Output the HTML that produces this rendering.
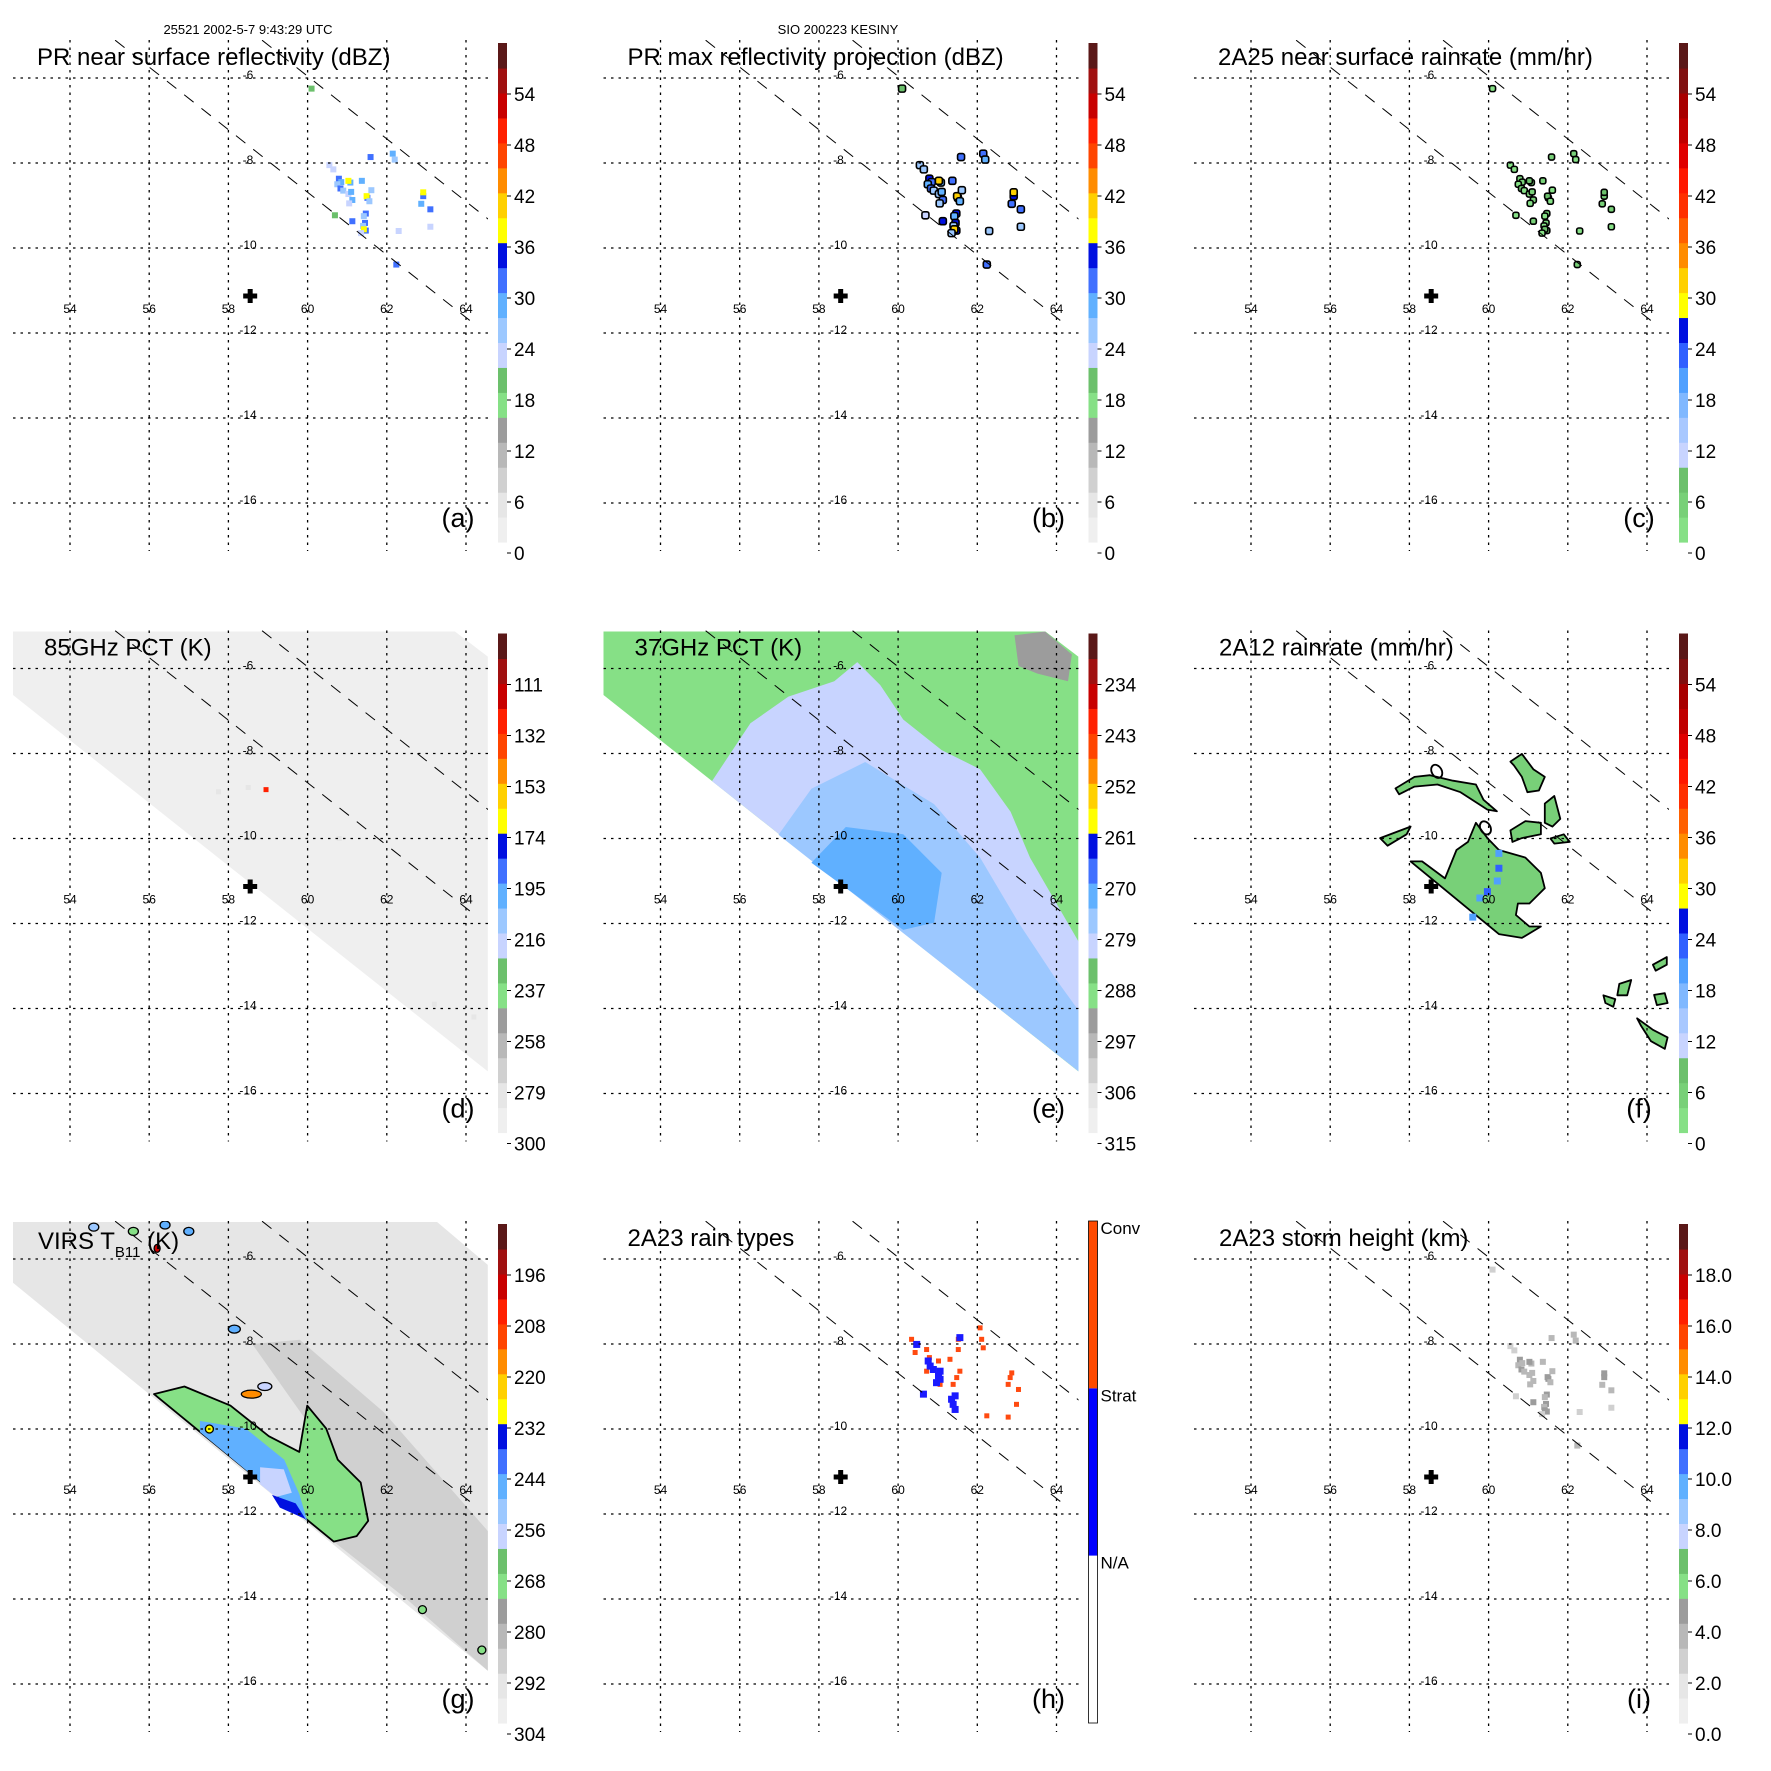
<!DOCTYPE html>
<html><head><meta charset="utf-8"><style>
html,body{margin:0;padding:0;background:#fff}
svg{display:block}
text{font-family:"Liberation Sans",Helvetica,Arial,sans-serif}
</style></head>
<body>
<svg id="chart" xmlns="http://www.w3.org/2000/svg" width="1771" height="1771" viewBox="0 0 1771 1771">
<rect x="0" y="0" width="1771" height="1771" fill="#fff"/>
<text x="248" y="34" font-size="13" text-anchor="middle">25521 2002-5-7 9:43:29 UTC</text>
<text x="838" y="34" font-size="13" text-anchor="middle">SIO 200223 KESINY</text>
</svg>
<script>
// ---------- data ----------
const lonTicks = [54, 56, 58, 60, 62, 64];
const latTicks = [-6, -8, -10, -12, -14, -16];
const centerLon = 58.55;
const centerLat = -11.13;
const swathEdgeA = [[55.14, -5.11], [64.28, -11.84]];
const swathEdgeB = [[58.85, -5.11], [64.56, -9.32]];
const swathTMI = [[52.54, -5.13], [63.72, -5.13], [64.55, -5.72], [64.55, -15.48], [52.54, -6.61]];
const swathVIRS = [[52.56, -5.13], [63.27, -5.13], [64.55, -6.14], [64.55, -15.69], [52.56, -6.56]];

// PR rain pixels: lon, lat
const prLon = [60.79,60.85,60.75,61.08,61.03,60.83,60.9,61.03,61.1,61.13,61.05,61.51,61.49,61.56,61.61,61.37,61.47,61.42,61.45,61.4,61.47,61.42,61.35,60.69,60.55,60.65,61.59,62.15,62.2,62.87,62.92,62.92,63.10,62.24,61.13,60.1,63.1,62.3];
const prLat = [-8.37,-8.45,-8.5,-8.46,-8.42,-8.60,-8.65,-8.73,-8.68,-8.87,-8.95,-8.82,-8.78,-8.9,-8.64,-8.42,-9.19,-9.25,-9.41,-9.48,-9.59,-9.56,-9.65,-9.23,-8.05,-8.15,-7.86,-7.78,-7.92,-8.96,-8.78,-8.69,-9.09,-10.39,-9.37,-6.25,-9.5,-9.6];
const prDBZ = [31,28,25,27,37,30,24,22,27,28,23,31,37,25,24,29,31,26,31,24,32,37,22,19,22,23,30,29,24,28,31,37,30,30,31,18,22,22];
const maxDBZ = [33,30,27,29,39,32,26,25,29,30,26,33,39,27,26,31,33,28,33,26,34,39,25,22,25,25,32,31,27,30,33,39,32,32,33,20,24,24];
const rain2A25 = [4,3,2,3,7,4,2,1,3,3,2,4,7,2,2,3,4,2,4,2,5,7,1,1,1,1,4,3,2,3,4,7,4,4,4,1,1,1];
const stormHeight = [4.2,3.8,3.5,3.9,4.5,4.1,3.3,3.0,3.7,3.9,3.2,4.2,4.6,3.4,3.1,3.8,4.3,3.6,4.3,3.4,4.4,4.6,2.9,2.5,2.6,2.7,3.9,3.5,3.2,3.8,4.1,4.4,3.9,3.8,4.0,2.4,2.8,2.6];

// 2A23 rain types
const convLon = [60.34,60.72,60.43,61.02,61.31,60.72,61.56,61.48,61.39,62.11,62.15,62.87,62.83,62.78,63.04,62.99,62.24,62.78,61.52,61.06,60.79,62.07,61.52];
const convLat = [-7.89,-8.13,-8.20,-8.40,-8.36,-8.64,-8.64,-8.79,-8.95,-7.89,-8.09,-8.68,-8.79,-8.95,-9.07,-9.42,-9.69,-9.72,-8.13,-8.95,-8.32,-7.62,-7.89];
const stratLon = [60.76,60.81,60.89,61.02,61.06,60.97,61.44,61.39,61.44,60.64,60.47,61.56,61.06,61.35];
const stratLat = [-8.40,-8.52,-8.60,-8.75,-8.83,-8.91,-9.22,-9.42,-9.54,-9.18,-8.01,-7.85,-8.64,-9.30];

// 85 GHz PCT (K)
const pct85Swath = 296;
const pct85SpotLon = [58.95, 58.5, 57.75, 60.8, 63.2, 64.2];
const pct85SpotLat = [-8.85, -8.8, -8.9, -10.0, -13.9, -14.2];
const pct85SpotVal = [130, 282, 284, 284, 282, 282];

// 37 GHz PCT regions (K)
const pct37Vals = [289, 283, 279, 274, 294];
const pct37Regions = [
  swathTMI,
  [[55.3,-8.65],[56.27,-7.29],[57.23,-6.66],[58.39,-6.30],[58.97,-5.85],[59.55,-6.39],[60.13,-7.20],[61.1,-7.92],[62.07,-8.37],[62.84,-9.37],[63.33,-10.45],[64.0,-11.53],[64.56,-12.43],[64.56,-15.48]],
  [[56.98,-9.91],[57.81,-8.83],[59.17,-8.20],[60.91,-9.19],[62.07,-10.45],[63.04,-11.98],[64.0,-13.33],[64.56,-14.05],[64.56,-15.48]],
  [[57.81,-10.57],[58.68,-9.73],[60.13,-9.90],[61.1,-10.81],[60.91,-11.98],[60.13,-12.15]],
  [[62.94,-5.22],[63.71,-5.13],[64.39,-5.67],[64.29,-6.30],[63.52,-6.12],[63.04,-5.94]]
];

// 2A12 rain rate blobs (mm/hr)
const rain2A12Vals = [3,3,3,3,3,3,3,3,3,3,3,3];
const rain2A12Blobs = [
  [[58.03,-10.54],[58.32,-10.54],[58.90,-10.94],[59.19,-10.27],[59.48,-10.08],[59.68,-9.63],[59.97,-9.99],[60.26,-10.27],[60.93,-10.45],[61.32,-10.81],[61.42,-11.17],[61.03,-11.53],[60.74,-11.53],[60.69,-11.80],[61.03,-12.07],[61.32,-12.07],[60.84,-12.34],[60.26,-12.25]],
  [[57.65,-8.82],[58.13,-8.55],[58.52,-8.51],[59.10,-8.64],[59.68,-8.73],[59.87,-9.09],[60.21,-9.36],[59.97,-9.32],[59.29,-8.91],[58.71,-8.73],[58.13,-8.78],[57.74,-8.96]],
  [[60.55,-8.19],[60.84,-8.01],[61.13,-8.37],[61.42,-8.55],[61.27,-8.87],[60.98,-8.91],[60.84,-8.55],[60.64,-8.28]],
  [[60.55,-9.81],[60.93,-9.59],[61.32,-9.63],[61.32,-9.90],[60.84,-9.99],[60.60,-10.08]],
  [[61.42,-9.18],[61.66,-9.0],[61.81,-9.54],[61.61,-9.72],[61.42,-9.63]],
  [[61.56,-10.0],[61.90,-9.90],[62.05,-10.08],[61.66,-10.12]],
  [[57.26,-9.99],[58.03,-9.72],[57.93,-9.9],[57.45,-10.17]],
  [[64.15,-12.97],[64.5,-12.79],[64.5,-12.97],[64.22,-13.11]],
  [[64.18,-13.68],[64.45,-13.64],[64.52,-13.87],[64.25,-13.92]],
  [[63.75,-14.23],[64.15,-14.50],[64.52,-14.68],[64.45,-14.95],[64.1,-14.77],[63.85,-14.41]],
  [[62.9,-13.69],[63.2,-13.78],[63.15,-13.96],[62.95,-13.87]],
  [[63.3,-13.42],[63.6,-13.33],[63.5,-13.69],[63.25,-13.69]]
];
const rain2A12HeavyLon = [60.26,60.26,60.22,59.97,59.78,59.6];
const rain2A12HeavyLat = [-10.35,-10.7,-11.0,-11.25,-11.4,-11.85];
const rain2A12HeavyVal = [20,22,19,21,20,19];

// VIRS Tb11 (K)
const virsVals = [295, 289, 271, 247, 259, 235];
const virsRegions = [
  swathVIRS,
  [[58.6,-8.0],[59.8,-7.9],[61.92,-9.6],[64.55,-12.4],[64.55,-15.69],[62.5,-14.0],[60.66,-12.65],[60.5,-10.5]],
  [[56.12,-9.18],[56.89,-9.0],[58.05,-9.45],[59.02,-10.17],[59.79,-10.54],[59.99,-9.45],[60.47,-9.99],[60.76,-10.72],[61.34,-11.26],[61.53,-12.16],[61.24,-12.52],[60.66,-12.65]],
  [[57.28,-9.81],[58.44,-9.99],[59.41,-10.72],[59.79,-11.53],[59.99,-12.16],[57.28,-10.07]],
  [[58.8,-10.9],[59.4,-10.95],[59.6,-11.5],[59.2,-11.6],[58.8,-11.3]],
  [[59.1,-11.55],[59.7,-11.75],[59.95,-12.12],[59.3,-11.85]]
];
const virsCellLon = [58.58, 57.52, 58.92, 58.15, 54.6, 55.6, 56.4, 57.0, 56.2, 64.4, 62.9];
const virsCellLat = [-9.18, -10.0, -9.0, -7.65, -5.25, -5.35, -5.2, -5.35, -5.75, -15.2, -14.25];
const virsCellVal = [217, 229, 259, 247, 253, 271, 247, 250, 200, 271, 271];
const virsCellRx = [10, 4, 7, 6, 5, 5, 5, 5, 3, 4, 4];

// colorbar tick labels
const ticksA = ["0","6","12","18","24","30","36","42","48","54"];
const ticksC = ["0","6","12","18","24","30","36","42","48","54"];
const ticksD = ["300","279","258","237","216","195","174","153","132","111"];
const ticksE = ["315","306","297","288","279","270","261","252","243","234"];
const ticksG = ["304","292","280","268","256","244","232","220","208","196"];
const ticksI = ["0.0","2.0","4.0","6.0","8.0","10.0","12.0","14.0","16.0","18.0"];
const rainTypeLabels = ["N/A","Strat","Conv"];

// ---------- colour tables ----------
const cmapA = ['#efefef','#e6e6e6','#d0d0d0','#b8b8b8','#9c9c9c','#86e086','#6cc06c','#c8d4ff','#9cc8ff','#60b0ff','#4070ff','#0010e0','#ffff00','#ffd000','#ff8c00','#ff4500','#ff2000','#c80000','#a01010','#5a1818'];
const cmapB = ['#86e086','#78d078','#6cc06c','#c8d4ff','#a8c8ff','#80b8ff','#50a0ff','#3060ff','#0010e0','#ffff00','#ffd000','#ff8c00','#ff6000','#ff3000','#ff1800','#e00000','#c00000','#a80000','#801010','#5a1818'];

// ---------- helpers ----------
const NS = 'http://www.w3.org/2000/svg';
const svg = document.getElementById('chart');
function X(lon){ return 70 + (lon - 54) * 39.6; }
function Y(lat){ return 78 + (-6 - lat) * 42.5; }
function mk(parent, tag, attrs){ const e = document.createElementNS(NS, tag); for (const k in attrs) e.setAttribute(k, attrs[k]); parent.appendChild(e); return e; }
function ptsStr(poly){ return poly.map(p => X(p[0]).toFixed(1) + ',' + Y(p[1]).toFixed(1)).join(' '); }
function clampIdx(i){ return Math.max(0, Math.min(19, Math.floor(i))); }
const idxLinear = (lo, step) => v => clampIdx((v - lo) / step);
const idxReverse = (hi, step) => v => clampIdx((hi - v) / step);

const colX = [0, 590.5, 1181], rowY = [0, 590.5, 1181];

const defs = mk(svg, 'defs', {});
const cp = mk(defs, 'clipPath', {id: 'plotclip'});
mk(cp, 'rect', {x: 13, y: 40, width: 475, height: 511});

function panel(key, col, row){
  const g = mk(svg, 'g', {transform: 'translate(' + colX[col] + ',' + rowY[row] + ')'});
  
  
  const plot = mk(g, 'g', {'clip-path': 'url(#plotclip)'});
  
  
  return {g, plot};
}

function drawFrame(P, key, title, letter, tx){
  const grid = mk(P.plot, 'g', {stroke: '#000', 'stroke-width': 1.3, 'stroke-dasharray': '2.5,5', fill: 'none'});
  
  
  lonTicks.forEach(lon => {
    const l = mk(grid, 'line', {x1: X(lon), x2: X(lon), y1: 40, y2: 551});
    
    
  });
  latTicks.forEach(lat => {
    const l = mk(grid, 'line', {x1: 13, x2: 488, y1: Y(lat), y2: Y(lat)});
    
    
  });
  [swathEdgeA, swathEdgeB].forEach(e => {
    const l = mk(P.plot, 'line', {x1: X(e[0][0]), y1: Y(e[0][1]), x2: X(e[1][0]), y2: Y(e[1][1]), stroke: '#000', 'stroke-width': 1, 'stroke-dasharray': '12,10'});
    
    
  });
  lonTicks.forEach(lon => {
    const t = mk(P.g, 'text', {x: X(lon), y: 313, 'font-size': 12, 'text-anchor': 'middle'});
    t.textContent = String(lon);
    
    
  });
  latTicks.forEach(lat => {
    const t = mk(P.g, 'text', {x: 248, y: Y(lat) + 1, 'font-size': 12, 'text-anchor': 'middle'});
    t.textContent = String(lat);
    
    
  });
  const cx = X(centerLon), cy = Y(centerLat);
  const cr = mk(P.g, 'path', {d: 'M' + (cx-7) + ',' + (cy-2.5) + 'h4.5v-4.5h5v4.5h4.5v5h-4.5v4.5h-5v-4.5h-4.5z', fill: '#000'});
  
  
  if (title){
    const t = mk(P.g, 'text', {x: tx, y: 65, 'font-size': 24});
    t.textContent = title;
    
    
  }
  const lt = mk(P.g, 'text', {x: 458, y: 527, 'font-size': 27, 'text-anchor': 'middle'});
  lt.textContent = '(' + letter + ')';
  
  
}

function colorbar(P, cmap, ticks){
  const cb = mk(P.g, 'g', {});
  
  
  const top = 43, step = 24.95;
  cmap.forEach((c, i) => {
    const r = mk(cb, 'rect', {x: 498, y: top + (19 - i) * step, width: 9, height: step + 0.6, fill: c});
    
    
  });
  ticks.forEach((lab, j) => {
    const y = 553 - j * 51;
    const tk = mk(cb, 'line', {x1: 507, x2: 511, y1: y, y2: y, stroke: '#000', 'stroke-width': 1});
    
    
    const t = mk(cb, 'text', {x: 514, y: y + 7, 'font-size': 19});
    t.textContent = lab;
    
    
  });
}

function pixels(plot, lons, lats, colorOf, stroke, name, size){
  lons.forEach((lon, i) => {
    const s = size || 6;
    const r = mk(plot, 'rect', {x: X(lon) - s/2, y: Y(lats[i]) - s/2, width: s, height: s, fill: colorOf(i)});
    if (stroke){ r.setAttribute('stroke', '#000'); r.setAttribute('stroke-width', 1.6); r.setAttribute('rx', 2); }
    
    
  });
}

function region(plot, poly, fill, stroke, name){
  const p = mk(plot, 'polygon', {points: ptsStr(poly), fill: fill});
  if (stroke){ p.setAttribute('stroke', '#000'); p.setAttribute('stroke-width', 1.8); p.setAttribute('stroke-linejoin', 'round'); }
  
  
}

// (a) PR near surface reflectivity
{
  const P = panel('a', 0, 0); const f = idxLinear(0, 3);
  pixels(P.plot, prLon, prLat, i => cmapA[f(prDBZ[i])], false, 'reflectivity-pixel', 6);
  drawFrame(P, 'a', 'PR near surface reflectivity (dBZ)', 'a', 37);
  colorbar(P, cmapA, ticksA);
}
// (b) PR max reflectivity projection
{
  const P = panel('b', 1, 0); const f = idxLinear(0, 3);
  pixels(P.plot, prLon, prLat, i => cmapA[f(maxDBZ[i])], true, 'max-reflectivity-cell', 7);
  drawFrame(P, 'b', 'PR max reflectivity projection (dBZ)', 'b', 37);
  colorbar(P, cmapA, ticksA);
}
// (c) 2A25 rain rate
{
  const P = panel('c', 2, 0); const f = idxLinear(0, 3);
  pixels(P.plot, prLon, prLat, i => cmapB[f(rain2A25[i])], true, 'rainrate-cell', 6);
  drawFrame(P, 'c', '2A25 near surface rainrate (mm/hr)', 'c', 37);
  colorbar(P, cmapB, ticksC);
}
// (d) 85GHz PCT
{
  const P = panel('d', 0, 1); const f = idxReverse(300, 10.5);
  region(P.plot, swathTMI, cmapA[f(pct85Swath)], false, 'tmi-swath');
  pixels(P.plot, pct85SpotLon, pct85SpotLat, i => cmapA[f(pct85SpotVal[i])], false, 'pct85-spot', 5);
  drawFrame(P, 'd', '85GHz PCT (K)', 'd', 44);
  colorbar(P, cmapA, ticksD);
}
// (e) 37GHz PCT
{
  const P = panel('e', 1, 1); const f = idxReverse(315, 4.5);
  pct37Regions.forEach((poly, i) => region(P.plot, poly, cmapA[f(pct37Vals[i])], false, 'pct37-region'));
  drawFrame(P, 'e', '37GHz PCT (K)', 'e', 44);
  colorbar(P, cmapA, ticksE);
}
// (f) 2A12 rain rate
{
  const P = panel('f', 2, 1); const f = idxLinear(0, 3);
  rain2A12Blobs.forEach((poly, i) => region(P.plot, poly, cmapB[f(rain2A12Vals[i])], true, 'tmi-rain-area'));
  pixels(P.plot, rain2A12HeavyLon, rain2A12HeavyLat, i => cmapB[f(rain2A12HeavyVal[i])], false, 'heavy-rain-pixel', 7);
  [[58.69,-8.42],[59.92,-9.75]].forEach(c => {
    const e = mk(P.plot, 'ellipse', {cx: X(c[0]), cy: Y(c[1]), rx: 5, ry: 7, fill: 'none', stroke: '#000', 'stroke-width': 1.8, transform: 'rotate(-30 ' + X(c[0]) + ' ' + Y(c[1]) + ')'});
    
    
  });
  drawFrame(P, 'f', '2A12 rainrate (mm/hr)', 'f', 38);
  colorbar(P, cmapB, ticksC);
}
// (g) VIRS Tb11
{
  const P = panel('g', 0, 2); const f = idxReverse(304, 6);
  virsRegions.forEach((poly, i) => region(P.plot, poly, cmapA[f(virsVals[i])], i === 2, 'virs-region'));
  virsCellLon.forEach((lon, i) => {
    const e = mk(P.plot, 'ellipse', {cx: X(lon), cy: Y(virsCellLat[i]), rx: virsCellRx[i], ry: 4, fill: cmapA[f(virsCellVal[i])], stroke: '#000', 'stroke-width': 1.3});
    
    
  });
  drawFrame(P, 'g', null, 'g', 38);
  const t = mk(P.g, 'text', {x: 38, y: 68, 'font-size': 24});
  
  
  t.innerHTML = 'VIRS T<tspan font-size="15" dy="8">B11</tspan><tspan dy="-8"> (K)</tspan>';
  colorbar(P, cmapA, ticksG);
}
// (h) 2A23 rain types
{
  const P = panel('h', 1, 2);
  pixels(P.plot, convLon, convLat, i => '#ff4a10', false, 'convective-pixel', 5);
  pixels(P.plot, stratLon, stratLat, i => '#1a1aff', false, 'stratiform-pixel', 7);
  drawFrame(P, 'h', '2A23 rain types', 'h', 37);
  const cb = mk(P.g, 'g', {});
  
  
  const cols = ['#ffffff', '#0000ff', '#ff4a00'];
  cols.forEach((c, i) => {
    const r = mk(cb, 'rect', {x: 498, y: 40 + (2 - i) * 167.3, width: 9, height: 167.3, fill: c});
    
    
  });
  const fr = mk(cb, 'rect', {x: 498, y: 40, width: 9, height: 502, fill: 'none', stroke: '#000', 'stroke-width': 0.8});
  
  
  rainTypeLabels.forEach((lab, i) => {
    const t = mk(cb, 'text', {x: 510, y: 40 + (2 - i) * 167.3 + 13, 'font-size': 17});
    t.textContent = lab;
    
    
  });
}
// (i) 2A23 storm height
{
  const P = panel('i', 2, 2); const f = idxLinear(0, 1);
  pixels(P.plot, prLon, prLat, i => cmapA[f(stormHeight[i])], false, 'storm-height-pixel', 6);
  drawFrame(P, 'i', '2A23 storm height (km)', 'i', 38);
  colorbar(P, cmapA, ticksI);
}
</script>
</body></html>
